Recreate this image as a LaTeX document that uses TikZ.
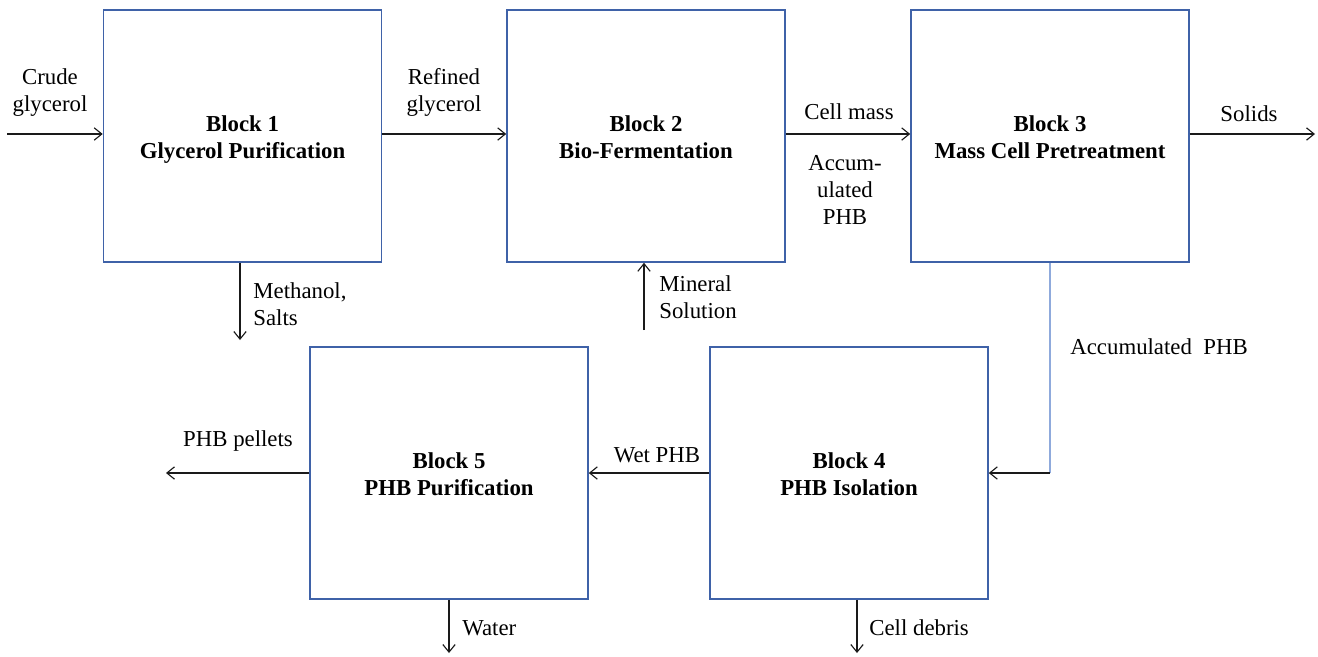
\documentclass[tikz,border=0pt]{standalone}
\usepackage{fontspec}
\setmainfont{Liberation Serif}
\usetikzlibrary{arrows.meta, calc, positioning}
\definecolor{blockblue}{HTML}{3F62A8}
\definecolor{linkblue}{HTML}{8FAADC}
\definecolor{flowgray}{HTML}{1A1A1A}
\newcommand{\blocktext}[2]{\rule{0pt}{13.5pt}#1\\#2\strut}
\tikzset{
  procblock/.style = {draw=blockblue, line width=0.8pt, fill=white,
                      minimum width=5.143cm, minimum height=4.662cm,
                      inner sep=0pt, align=center,
                      font=\fontsize{12}{14.4}\selectfont\bfseries},
  flow/.style      = {draw=flowgray, line width=0.6pt,
                      -{Straight Barb[length=4pt, width=6.5pt]}},
  linkline/.style  = {draw=linkblue, line width=0.9pt},
  streamlab/.style = {font=\fontsize{12}{14.2}\selectfont, inner sep=0pt,
                      text=black},
}

\begin{document}
\begin{tikzpicture}[x=0.0185cm, y=-0.0185cm]
  \useasboundingbox (0,0) rectangle (1318,656);
  % process blocks
  \node[procblock] (b1) at (242.5,136) {\blocktext{Block 1}{Glycerol Purification}};
  \node[procblock] (b2) at (646,136) {\blocktext{Block 2}{Bio-Fermentation}};
  \node[procblock] (b3) at (1050,136) {\blocktext{Block 3}{Mass Cell Pretreatment}};
  \node[procblock] (b5) at (449,473) {\blocktext{Block 5}{PHB Purification}};
  \node[procblock] (b4) at (849,473) {\blocktext{Block 4}{PHB Isolation}};
  % free ends of the streams
  \coordinate (crudein) at (7,134);
  \coordinate (solidsout) at (1315,134);
  \coordinate (methout) at (240,340);
  \coordinate (minin) at (644,330);
  \coordinate (pelletout) at (166,473);
  \coordinate (waterout) at (449,653);
  \coordinate (debrisout) at (857,653);
  \coordinate (turn) at (b3.south |- b4.east);
  % streams
  \draw[flow] (crudein) -- (crudein -| b1.west);
  \draw[flow] (b1.east |- crudein) -- (b2.west |- crudein);
  \draw[flow] (b2.east |- crudein) -- (b3.west |- crudein);
  \draw[flow] (b3.east |- crudein) -- (solidsout);
  \draw[flow] (methout |- b1.south) -- (methout);
  \draw[flow] (minin) -- (minin |- b2.south);
  \draw[linkline] (b3.south) -- (turn);
  \draw[flow] (turn) -- (b4.east);
  \draw[flow] (b4.west) -- (b5.east);
  \draw[flow] (b5.west) -- (pelletout);
  \draw[flow] (b5.south) -- (waterout);
  \draw[flow] (debrisout |- b4.south) -- (debrisout);
  % stream labels
  \node[streamlab, align=center] (crudelab) at (50,93) {Crude\\glycerol};
  \node[streamlab, align=center] (refinedlab) at (444,92) {Refined\\glycerol};
  \node[streamlab] (masslab) at (849,112) {Cell mass};
  \node[streamlab, align=center] (accumlab) at (845,190) {Accum-\\ulated\\PHB};
  \node[streamlab] (solidslab) at (1249,114) {Solids};
  \node[streamlab, align=left, anchor=west] (methlab) at (253,304) {Methanol,\\Salts};
  \node[streamlab, align=left, anchor=west] (minlab) at (659,297) {Mineral\\Solution};
  \node[streamlab, anchor=west] (phblab) at (1070,347) {Accumulated~~PHB};
  \node[streamlab] (wetlab) at (657,455) {Wet PHB};
  \node[streamlab] (pelletlab) at (238,441) {PHB pellets};
  \node[streamlab, anchor=west] (waterlab) at (462,628) {Water};
  \node[streamlab, anchor=west] (debrislab) at (869,628) {Cell debris};
\end{tikzpicture}
\end{document}
